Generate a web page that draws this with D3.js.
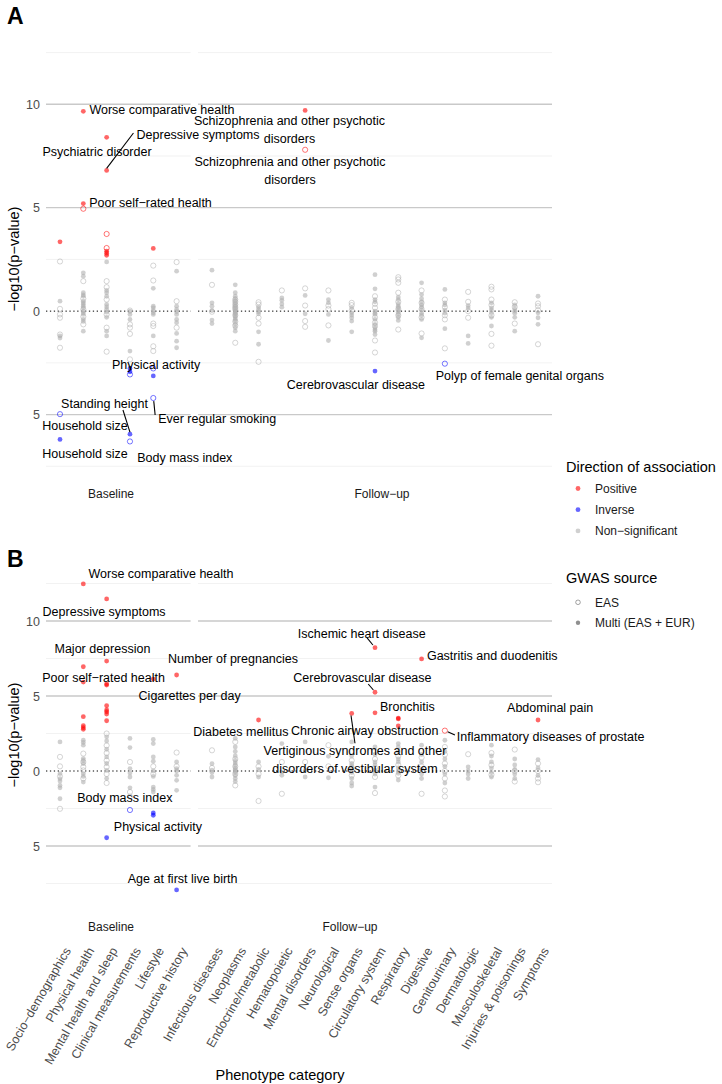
<!DOCTYPE html>
<html>
<head>
<meta charset="utf-8">
<script src="https://cdn.jsdelivr.net/npm/d3@7"></script>
<style>
body { margin: 0; background: #fff; }
text { font-family: "Liberation Sans", Arial, Helvetica, sans-serif; }
</style>
</head>
<body>
<svg id="chart" width="722" height="1084"></svg>
<script>
const baselineCats = ["Socio−demographics", "Physical health", "Mental health and sleep",
	"Clinical measurements", "Lifestyle", "Reproductive history"];
const followupCats = ["Infectious diseases", "Neoplasms", "Endocrine/metabolic", "Hematopoietic",
	"Mental disorders", "Neurological", "Sense organs", "Circulatory system", "Respiratory",
	"Digestive", "Genitourinary", "Dermatologic", "Musculoskeletal", "Injuries & poisonings", "Symptoms"];
const allCats = baselineCats.concat(followupCats);

const majorTicks = [-5, 0, 5, 10];
const minorTicks = [-7.5, -2.5, 2.5, 7.5, 12.5];

// non-significant results, one list per category (in allCats order), signed -log10(p)
const aGreyEAS = [
	[2.4, 0.11, -0.16, -0.32, -1.13, -1.77], [1.45, 0.6, 0.08, -0.27, -0.64],
	[1.45, 1.16, 0.56, -0.16, -0.8, -1.96], [0.03, -0.64, -0.8, -1.1, -2.33],
	[2.2, 1.48, -0.6, -0.72, -1.7, -1.93], [2.37, 0.48, -0.8],
	[1.27, -0.03], [0.56, 0.45, 0.32, 0.19, 0.1, -0.2, -0.5, -0.7, -1.53],
	[0.43, 0.32, -0.32, -0.6, -2.45], [1.0], [1.1, 0.27, -0.48, -0.76], [1.0, 0.27, 0.1, -0.69],
	[0.4, 0.29, 0.03], [0.72, 0.35, 0.16, -0.3, -0.55, -0.72, -1.42, -2.0],
	[1.64, 1.53, 1.37, 0.89, 0.45, 0.1, -0.2, -0.89], [1.0, 0.4, 0.1, -0.3, -1.08],
	[0.56, 0.2, -0.2, -0.4, -1.8], [0.93, 0.45, 0, -0.32],
	[1.18, 1.05, 0.56, 0.3, -0.2, -1.1, -1.67], [0.43, 0.2, -0.6], [0.37, 0.24, 0.05, -1.6]
];
const aGreyMulti = [
	[0.48, -1.2, -1.3],
	[1.85, 1.69, 0.89, 0.78, 0.72, 0.48, 0.4, 0.32, 0.24, 0.16, 0, -0.08, -0.16, -0.4, -0.5, -0.97],
	[2.38, 1.0, 0.89, 0.72, 0.32, 0.2, 0.08, -0.05, -0.3, -0.97, -1.2],
	[0, -0.16, -0.4, -1.93], [1.1, 0.24, 0.16, 0.03, -0.08, -0.16, -1.2],
	[1.93, 0.24, 0.08, -0.03, -0.16, -0.4, -0.56, -1.08, -1.45, -1.77],
	[1.98, 0.4, 0.24, 0.03, -0.43, -0.6],
	[1.27, 0.89, 0.72, 0.6, 0.5, 0.4, 0.3, 0.24, 0.16, 0.08, 0.02, -0.05, -0.1, -0.16, -0.24, -0.32, -0.4, -0.48, -0.64, -0.8, -0.97],
	[0.19, 0.08, -0.03, -0.13, -1.0, -1.6], [0.64, 0.52, 0.35, 0.19], [0.76, -0.13],
	[0.56, 0.4, -0.16, -1.42], [0.16, -0.08, -0.19, -0.32, -0.48, -1.0],
	[1.76, 1.08, 0.56, 0.45, 0, -0.1, -0.16, -0.4, -0.64, -0.8, -0.9, -0.97, -1.13],
	[0.68, 0.56, 0.35, 0.24, 0.16, 0.05, -0.05, -0.16, -0.3, -0.45],
	[1.37, 0.8, 0.6, 0.45, 0.3, 0.2, 0.05, -0.1, -0.2, -0.4, -1.29],
	[1.05, 0.4, 0.3, 0.05, -0.1, -0.85], [0.27, 0.15, -1.2, -1.56],
	[0.4, 0.16, 0.05, -0.08, -0.3, -0.72], [0.3, 0.1, 0, -0.1, -0.3, -0.97], [0.72, -0.08, -0.32, -0.64]
];
const bGreyEAS = [
	[0.94, 0.31, -0.36, -2.52], [1.16, 0.6, 0.27, 0.04, -0.5], [2.5, 1.7, 1.2, 0.7, 0.27, -0.2, -0.8],
	[0.6, -1.4, -1.7], [0.31, -0.2], [1.23, 0.31],
	[1.38, 0.2], [1.94, 0.8, 0.3, -0.2, -0.96], [0.3, -0.2, -2.0], [0.6, -1.52], [0.6], [1.72, 0.31],
	[0.7, 0.2, -0.3], [1.3, 0.8, 0.2, -0.4, -1.47], [1.0, 0.4, -0.3], [0.9, 0.3, -1.52],
	[1.6, 1.1, 0.5, 0, -0.5, -1.3, -1.7], [1.12], [1.2, 0.4, -0.25], [1.43, 0, -0.7], [0.5, 0, -0.5, -0.75]
];
const bGreyMulti = [
	[1.94, -0.18, -0.51, -0.67, -0.96, -1.12, -1.85], [2.05, 1.9, 1.72, 0.83, 0.7, 0.49, -0.18, -0.36, -0.74],
	[2.28, 2.0, 1.45, 0.94, 0.5, 0.04, -0.5], [2.17, 1.56, 0.16, -0.13, -0.4, -1.12],
	[2.1, 1.83, 0.94, 0.65, 0, -0.36, -1.07, -1.23, -1.4], [0.6, 0.15, 0, -0.29, -0.62, -1.29],
	[0.49, 0.05, -0.1, -0.4], [2.17, 1.6, 1.3, 1.0, 0.7, 0.55, 0.4, 0.2, 0.1, 0, -0.1, -0.3, -0.5, -0.7],
	[0.6, 0.1, -0.4], [1.83, -0.07, -0.29], [1.94, 0.04, -0.4], [0.98, -0.45],
	[1.94, 1.0, 0.5, 0.35, 0.1, -0.1, -0.5, -0.8, -1.0], [1.6, 1.1, 0.6, 0.4, 0.05, -0.2, -1.07],
	[1.83, 1.6, 1.3, 0.8, 0.6, 0.2, 0, -0.15, -0.6], [1.72, 1.1, 0.6, 0.1, -0.2, -0.5],
	[2.05, 1.3, 0.8, 0.3, -0.2, -0.8], [0.27, 0, -0.2, -0.5], [1.72, 1.0, 0.6, 0.2, -0.1, -0.4],
	[0.8, 0.4, 0.1, -0.2, -0.5], [0.76, 0.2, -0.3]
];

// significant results: [category index, signed -log10(p), GWAS source]
const aHits = [
	[0, 3.35, "M"], [1, 9.66, "M"], [1, 5.2, "M"], [1, 4.95, "E"], [2, 8.4, "M"], [2, 6.8, "M"],
	[2, 3.73, "E"], [2, 3.05, "E"], [2, 2.9, "M"], [2, 2.8, "M"], [2, 2.7, "M"], [4, 3.03, "M"],
	[10, 9.7, "M"], [10, 7.8, "E"],
	[0, -4.98, "E"], [0, -6.2, "M"], [3, -2.77, "M"], [3, -2.93, "M"], [3, -3.06, "E"],
	[3, -5.95, "M"], [3, -6.3, "E"], [4, -2.77, "E"], [4, -3.13, "M"], [4, -4.2, "E"],
	[13, -2.9, "M"], [16, -2.54, "E"]
];
const bHits = [
	[1, 12.47, "M"], [1, 6.95, "M"], [1, 5.93, "M"], [1, 3.62, "M"], [1, 3.02, "M"], [1, 2.89, "M"], [1, 2.78, "M"],
	[2, 11.47, "M"], [2, 7.33, "M"], [2, 5.8, "M"], [2, 5.73, "M"], [2, 4.35, "M"], [2, 4.07, "M"],
	[2, 3.95, "M"], [2, 3.8, "M"], [2, 3.35, "M"],
	[4, 6.13, "M"], [5, 6.4, "M"], [8, 3.4, "M"], [12, 3.84, "M"], [13, 8.22, "M"], [13, 5.25, "M"],
	[13, 3.88, "M"], [14, 3.53, "M"], [14, 3.47, "M"], [14, 3.0, "M"], [15, 7.47, "M"], [16, 2.69, "E"],
	[20, 3.4, "M"],
	[2, -4.45, "M"], [3, -2.6, "E"], [4, -2.8, "M"], [4, -2.95, "M"], [5, -7.93, "M"]
];

// repelled labels: anchor category, offset in category steps, y in data units, optional segment
const aLabels = [
	{ t: ["Worse comparative health"], c: 1, dx: 3.37, y: 9.74 },
	{ t: ["Schizophrenia and other psychotic", "disorders"], c: 10, dx: -0.67, y: 9.22 },
	{ t: ["Schizophrenia and other psychotic", "disorders"], c: 10, dx: -0.65, y: 7.24 },
	{ t: ["Depressive symptoms"], c: 2, dx: 3.92, y: 8.55, seg: [1.15, 8.61, 0, 6.9] },
	{ t: ["Psychiatric disorder"], c: 2, dx: -0.41, y: 7.7 },
	{ t: ["Poor self−rated health"], c: 1, dx: 2.88, y: 5.25 },
	{ t: ["Physical activity"], c: 3, dx: 1.12, y: -2.57, seg: [0, -2.66, 0.04, -2.85] },
	{ t: ["Standing height"], c: 3, dx: -1.09, y: -4.49, seg: [-0.3, -4.78, 0, -5.85] },
	{ t: ["Ever regular smoking"], c: 4, dx: 2.74, y: -5.18, seg: [0.02, -4.35, 0.08, -5.02] },
	{ t: ["Household size"], c: 0, dx: 1.07, y: -5.54 },
	{ t: ["Household size"], c: 0, dx: 1.07, y: -6.87 },
	{ t: ["Body mass index"], c: 3, dx: 2.35, y: -7.06 },
	{ t: ["Cerebrovascular disease"], c: 13, dx: -0.82, y: -3.53 },
	{ t: ["Polyp of female genital organs"], c: 16, dx: -0.39, y: -3.14, a: "start" }
];
const bLabels = [
	{ t: ["Worse comparative health"], c: 1, dx: 3.33, y: 13.13 },
	{ t: ["Depressive symptoms"], c: 2, dx: -0.11, y: 10.6 },
	{ t: ["Major depression"], c: 2, dx: -0.18, y: 8.13 },
	{ t: ["Poor self−rated health"], c: 1, dx: 0.87, y: 6.22 },
	{ t: ["Number of pregnancies"], c: 5, dx: 2.42, y: 7.47 },
	{ t: ["Cigarettes per day"], c: 4, dx: 1.56, y: 5.0 },
	{ t: ["Diabetes mellitus"], c: 8, dx: -0.76, y: 2.6 },
	{ t: ["Ischemic heart disease"], c: 13, dx: -0.57, y: 9.18, seg: [-0.34, 8.87, -0.09, 8.4] },
	{ t: ["Gastritis and duodenitis"], c: 15, dx: 0.23, y: 7.67, a: "start" },
	{ t: ["Cerebrovascular disease"], c: 13, dx: -0.54, y: 6.22, seg: [-0.29, 5.8, -0.07, 5.4] },
	{ t: ["Bronchitis"], c: 13, dx: 1.39, y: 4.27 },
	{ t: ["Chronic airway obstruction"], c: 13, dx: -0.44, y: 2.69 },
	{ t: ["Vertiginous syndromes and other", "disorders of vestibular system"], c: 12, dx: 0.14, y: 1.35, seg: [-0.03, 3.7, 0.14, 1.85] },
	{ t: ["Inflammatory diseases of prostate"], c: 16, dx: 0.51, y: 2.29, a: "start", seg: [0.12, 2.62, 0.43, 2.4] },
	{ t: ["Abdominal pain"], c: 20, dx: 0.52, y: 4.22 },
	{ t: ["Body mass index"], c: 3, dx: -0.22, y: -1.78 },
	{ t: ["Physical activity"], c: 4, dx: 0.2, y: -3.71 },
	{ t: ["Age at first live birth"], c: 5, dx: 0.26, y: -7.15 }
];

const dirColor = { pos: "#ff0000", inv: "#0000ff", ns: "#b0b0b0" };
const svg = d3.select("#chart");

const xBase = d3.scalePoint().domain(baselineCats).range([46, 190.6]).padding(0.6);
const xFollow = d3.scalePoint().domain(followupCats).range([198, 552]).padding(0.6);
const step = xBase.step();
const facets = [xBase, xFollow];
function xOf(i) {
	let cat = allCats[i];
	return i < baselineCats.length ? xBase(cat) : xFollow(cat);
}

function buildPoints(greyE, greyM, hits) {
	let pts = [];
	greyE.forEach((vals, i) => vals.forEach(v => pts.push({ c: i, v: v, src: "E", dir: "ns" })));
	greyM.forEach((vals, i) => vals.forEach(v => pts.push({ c: i, v: v, src: "M", dir: "ns" })));
	hits.forEach(h => pts.push({ c: h[0], v: h[1], src: h[2], dir: h[1] > 0 ? "pos" : "inv" }));
	return pts;
}

function drawPanel(cfg) {
	let g = svg.append("g");
	let y = d3.scaleLinear().domain(cfg.domain).range([cfg.bottom, cfg.top]);

	// grid, split per facet
	facets.forEach(xs => {
		let [x0, x1] = xs.range();
		g.selectAll(null).data(minorTicks).join("line")
			.attr("x1", x0).attr("x2", x1).attr("y1", d => y(d)).attr("y2", d => y(d))
			.attr("stroke", "#ececec").attr("stroke-width", 0.7);
		g.selectAll(null).data(majorTicks.filter(d => d !== 0)).join("line")
			.attr("x1", x0).attr("x2", x1).attr("y1", d => y(d)).attr("y2", d => y(d))
			.attr("stroke", "#c9c9c9").attr("stroke-width", 1.3);
		g.append("line")
			.attr("x1", x0).attr("x2", x1).attr("y1", y(0)).attr("y2", y(0))
			.attr("stroke", "#000").attr("stroke-width", 1).attr("stroke-dasharray", "1.3,2.6");
	});

	// y axis tick labels show the absolute value
	let yAxis = g.append("g").attr("transform", "translate(44,0)")
		.call(d3.axisLeft(y).tickValues(majorTicks).tickSize(0).tickPadding(4).tickFormat(d => Math.abs(d)));
	yAxis.select(".domain").remove();
	yAxis.selectAll("text").attr("fill", "#4d4d4d").style("font-size", "12.5px")
		.style("font-family", "'Liberation Sans', Arial, sans-serif");

	g.append("text")
		.attr("transform", `translate(19,${(cfg.top + cfg.bottom) / 2}) rotate(-90)`)
		.attr("text-anchor", "middle").style("font-size", "14.5px").text("−log10(p−value)");

	// points
	let pts = buildPoints(cfg.greyE, cfg.greyM, cfg.hits);
	pts.sort((a, b) => (a.dir === "ns" ? 0 : 1) - (b.dir === "ns" ? 0 : 1));
	g.selectAll(null).data(pts).join("circle")
		.attr("cx", d => xOf(d.c)).attr("cy", d => y(d.v))
		.attr("r", d => d.src === "E" ? 2.6 : 2.4)
		.attr("fill", d => d.src === "E" ? "none" : dirColor[d.dir])
		.attr("stroke", d => d.src === "E" ? dirColor[d.dir] : "none")
		.attr("stroke-width", 0.9)
		.attr("opacity", 0.6);

	// label segments and text
	cfg.labels.filter(l => l.seg).forEach(l => {
		let x = xOf(l.c);
		g.append("line")
			.attr("x1", x + l.seg[0] * step).attr("y1", y(l.seg[1]))
			.attr("x2", x + l.seg[2] * step).attr("y2", y(l.seg[3]))
			.attr("stroke", "#000").attr("stroke-width", 1.1);
	});
	cfg.labels.forEach(l => {
		let t = g.append("text")
			.attr("x", xOf(l.c) + l.dx * step).attr("y", y(l.y))
			.attr("text-anchor", l.a || "middle")
			.style("font-size", "12.5px").attr("fill", "#000");
		l.t.forEach((line, k) => {
			t.append("tspan").attr("x", xOf(l.c) + l.dx * step)
				.attr("dy", k === 0 ? "0.35em" : "1.45em").text(line);
		});
	});

	// strip labels at the bottom
	cfg.strips.forEach(s => {
		g.append("text").attr("x", s[1]).attr("y", cfg.stripY).attr("dy", "0.35em")
			.attr("text-anchor", "middle").attr("fill", "#1a1a1a").style("font-size", "12px").text(s[0]);
	});

	svg.append("text").attr("x", 7).attr("y", cfg.tagY)
		.style("font-size", "23px").style("font-weight", "bold").text(cfg.tag);

	if (cfg.showX) {
		facets.forEach(xs => {
			let ax = g.append("g").attr("transform", "translate(0,944)")
				.call(d3.axisBottom(xs).tickSize(0).tickPadding(0));
			ax.select(".domain").remove();
			ax.selectAll("text")
				.attr("transform", "translate(3,2) rotate(-60)")
				.attr("text-anchor", "end").attr("dy", "0.72em").attr("y", 0)
				.attr("fill", "#4d4d4d").style("font-size", "12.5px")
				.style("font-family", "'Liberation Sans', Arial, sans-serif");
		});
	}
}

drawPanel({
	tag: "A", tagY: 24, top: 36, bottom: 482, domain: [-8.26, 13.3],
	greyE: aGreyEAS, greyM: aGreyMulti, hits: aHits, labels: aLabels,
	stripY: 494, strips: [["Baseline", 111], ["Follow−up", 382]], showX: false
});
drawPanel({
	tag: "B", tagY: 567, top: 555, bottom: 915, domain: [-9.6, 14.4],
	greyE: bGreyEAS, greyM: bGreyMulti, hits: bHits, labels: bLabels,
	stripY: 927, strips: [["Baseline", 111], ["Follow−up", 350]], showX: true
});

svg.append("text").attr("x", 280).attr("y", 1080).attr("text-anchor", "middle")
	.style("font-size", "14.5px").text("Phenotype category");

// legends
const dirLegend = [["Positive", "pos"], ["Inverse", "inv"], ["Non−significant", "ns"]];
const srcLegend = [["EAS", "E"], ["Multi (EAS + EUR)", "M"]];
const leg = svg.append("g");
leg.append("text").attr("x", 566).attr("y", 467).attr("dy", "0.35em")
	.style("font-size", "14.5px").text("Direction of association");
dirLegend.forEach((d, i) => {
	let yy = 488.5 + i * 21.2;
	leg.append("circle").attr("cx", 578).attr("cy", yy).attr("r", 2.4)
		.attr("fill", dirColor[d[1]]).attr("opacity", 0.6);
	leg.append("text").attr("x", 595).attr("y", yy).attr("dy", "0.35em")
		.style("font-size", "12px").attr("fill", "#1a1a1a").text(d[0]);
});
leg.append("text").attr("x", 566).attr("y", 577.5).attr("dy", "0.35em")
	.style("font-size", "14.5px").text("GWAS source");
srcLegend.forEach((d, i) => {
	let yy = 602.3 + i * 20.5;
	leg.append("circle").attr("cx", 578).attr("cy", yy).attr("r", d[1] === "E" ? 2.3 : 2.2)
		.attr("fill", d[1] === "E" ? "none" : "#444").attr("stroke", d[1] === "E" ? "#444" : "none")
		.attr("stroke-width", 0.8).attr("opacity", 0.6);
	leg.append("text").attr("x", 595).attr("y", yy).attr("dy", "0.35em")
		.style("font-size", "12px").attr("fill", "#1a1a1a").text(d[0]);
});
</script>
</body>
</html>
